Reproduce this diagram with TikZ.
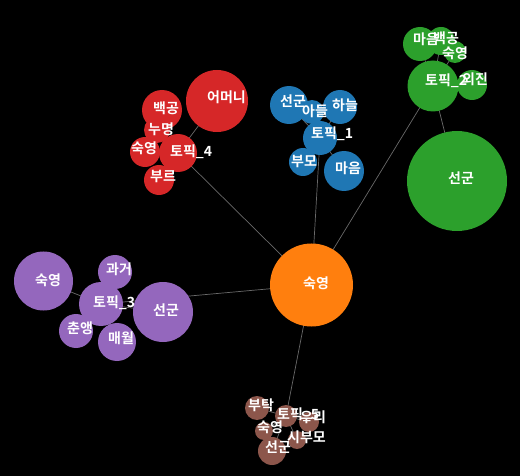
\documentclass[tikz,border=0pt]{standalone}
\usepackage{fontspec}
\newfontfamily\kr{Noto Sans CJK KR}[BoldFont={Noto Sans CJK KR Bold}]
\usetikzlibrary{positioning}

\definecolor{torange}{HTML}{FF7F0E}
\definecolor{tblue}{HTML}{1F77B4}
\definecolor{tgreen}{HTML}{2CA02C}
\definecolor{tred}{HTML}{D62728}
\definecolor{tpurple}{HTML}{9467BD}
\definecolor{tbrown}{HTML}{8C564B}
\definecolor{edgegray}{RGB}{105,105,105}

\pgfdeclarelayer{bg}
\pgfdeclarelayer{edges}
\pgfdeclarelayer{labels}
\pgfsetlayers{bg,edges,main,labels}

\tikzset{
  word/.style={circle, inner sep=0pt, draw=none},
  lbl/.style={anchor=west, inner sep=0pt, text=white,
    font=\kr\bfseries\fontsize{14}{14}\selectfont,
    text height=10.5pt, text depth=0.5pt},
  link/.style={draw=edgegray, line width=0.7pt}
}

% name, x, y, diameter, colour, label x, label y, label
\newcommand{\wnode}[8]{%
  \node[word, fill=#5, minimum size=#4pt] (#1) at (#2,#3) {};
  \begin{pgfonlayer}{labels}
    \node[lbl] (#1-t) at (#6,#7) {#8};
  \end{pgfonlayer}}

\begin{document}
\begin{tikzpicture}[x=1pt, y=-1pt]
  \begin{pgfonlayer}{bg}
    \fill[black] (0,0) rectangle (520,476);
  \end{pgfonlayer}
  \useasboundingbox (0,0) rectangle (520,476);

  % centre word
  \wnode{sy}{311.5}{285}{83}{torange}{303}{283}{숙영}

  % topic 1
  \wnode{t1}{320}{138}{34}{tblue}{311}{134}{토픽\_1}
  \wnode{b-seongun}{289}{105}{38}{tblue}{280}{102}{선군}
  \wnode{b-adeul}{312}{112}{24}{tblue}{302}{112}{아들}
  \wnode{b-haneul}{340}{107}{34}{tblue}{332}{106}{하늘}
  \wnode{b-bumo}{303}{162}{28}{tblue}{291}{162}{부모}
  \wnode{b-maeum}{344}{171}{40}{tblue}{335}{169}{마음}

  % topic 2
  \wnode{t2}{433}{86}{51}{tgreen}{425}{81}{토픽\_2}
  \wnode{g-seongun}{457}{181}{100}{tgreen}{448}{179}{선군}
  \wnode{g-oejin}{472}{85}{30}{tgreen}{462}{80}{외진}
  \wnode{g-maeum}{420}{44}{34}{tgreen}{413}{40}{마음}
  \wnode{g-baekgong}{441}{41}{28}{tgreen}{433}{39}{백공}
  \wnode{g-sukyeong}{455}{52}{22}{tgreen}{442}{54}{숙영}

  % topic 3
  \wnode{t3}{101}{304}{44}{tpurple}{93}{302}{토픽\_3}
  \wnode{p-sukyeong}{43.5}{281}{59}{tpurple}{35}{280}{숙영}
  \wnode{p-gwageo}{115}{272}{34}{tpurple}{106}{270}{과거}
  \wnode{p-seongun}{163}{312}{60}{tpurple}{153}{310}{선군}
  \wnode{p-chunaeng}{76}{331}{34}{tpurple}{67}{328}{춘앵}
  \wnode{p-maewol}{117}{342}{38}{tpurple}{108}{338}{매월}

  % topic 4
  \wnode{t4}{178}{153}{38}{tred}{170}{152}{토픽\_4}
  \wnode{r-eomeoni}{217}{101}{62}{tred}{207}{98}{어머니}
  \wnode{r-baekgong}{162}{110}{40}{tred}{153}{109}{백공}
  \wnode{r-numyeong}{157}{130}{26}{tred}{148}{130}{누명}
  \wnode{r-sukyeong}{145}{152}{30}{tred}{131}{149}{숙영}
  \wnode{r-bureu}{159}{180}{30}{tred}{150}{177}{부르}

  % topic 5
  \wnode{t5}{286}{416}{22}{tbrown}{277}{414}{토픽\_5}
  \wnode{n-butak}{257}{408}{24}{tbrown}{248}{405}{부탁}
  \wnode{n-uri}{309}{422}{20}{tbrown}{300}{417}{우리}
  \wnode{n-sukyeong}{264}{431}{18}{tbrown}{257}{427}{숙영}
  \wnode{n-sibumo}{297}{440}{18}{tbrown}{287}{437}{시부모}
  \wnode{n-seongun}{272}{451}{28}{tbrown}{265}{447}{선군}

  % links
  \begin{pgfonlayer}{edges}
    \foreach \t in {t1,t2,t3,t4,t5}
      \draw[link] (sy.center) -- (\t.center);
    \foreach \w in {b-seongun,b-adeul,b-haneul,b-bumo,b-maeum}
      \draw[link] (t1.center) -- (\w.center);
    \foreach \w in {g-seongun,g-oejin,g-maeum,g-baekgong,g-sukyeong}
      \draw[link] (t2.center) -- (\w.center);
    \foreach \w in {p-sukyeong,p-gwageo,p-seongun,p-chunaeng,p-maewol}
      \draw[link] (t3.center) -- (\w.center);
    \foreach \w in {r-eomeoni,r-baekgong,r-numyeong,r-sukyeong,r-bureu}
      \draw[link] (t4.center) -- (\w.center);
    \foreach \w in {n-butak,n-uri,n-sukyeong,n-sibumo,n-seongun}
      \draw[link] (t5.center) -- (\w.center);
  \end{pgfonlayer}
\end{tikzpicture}
\end{document}
